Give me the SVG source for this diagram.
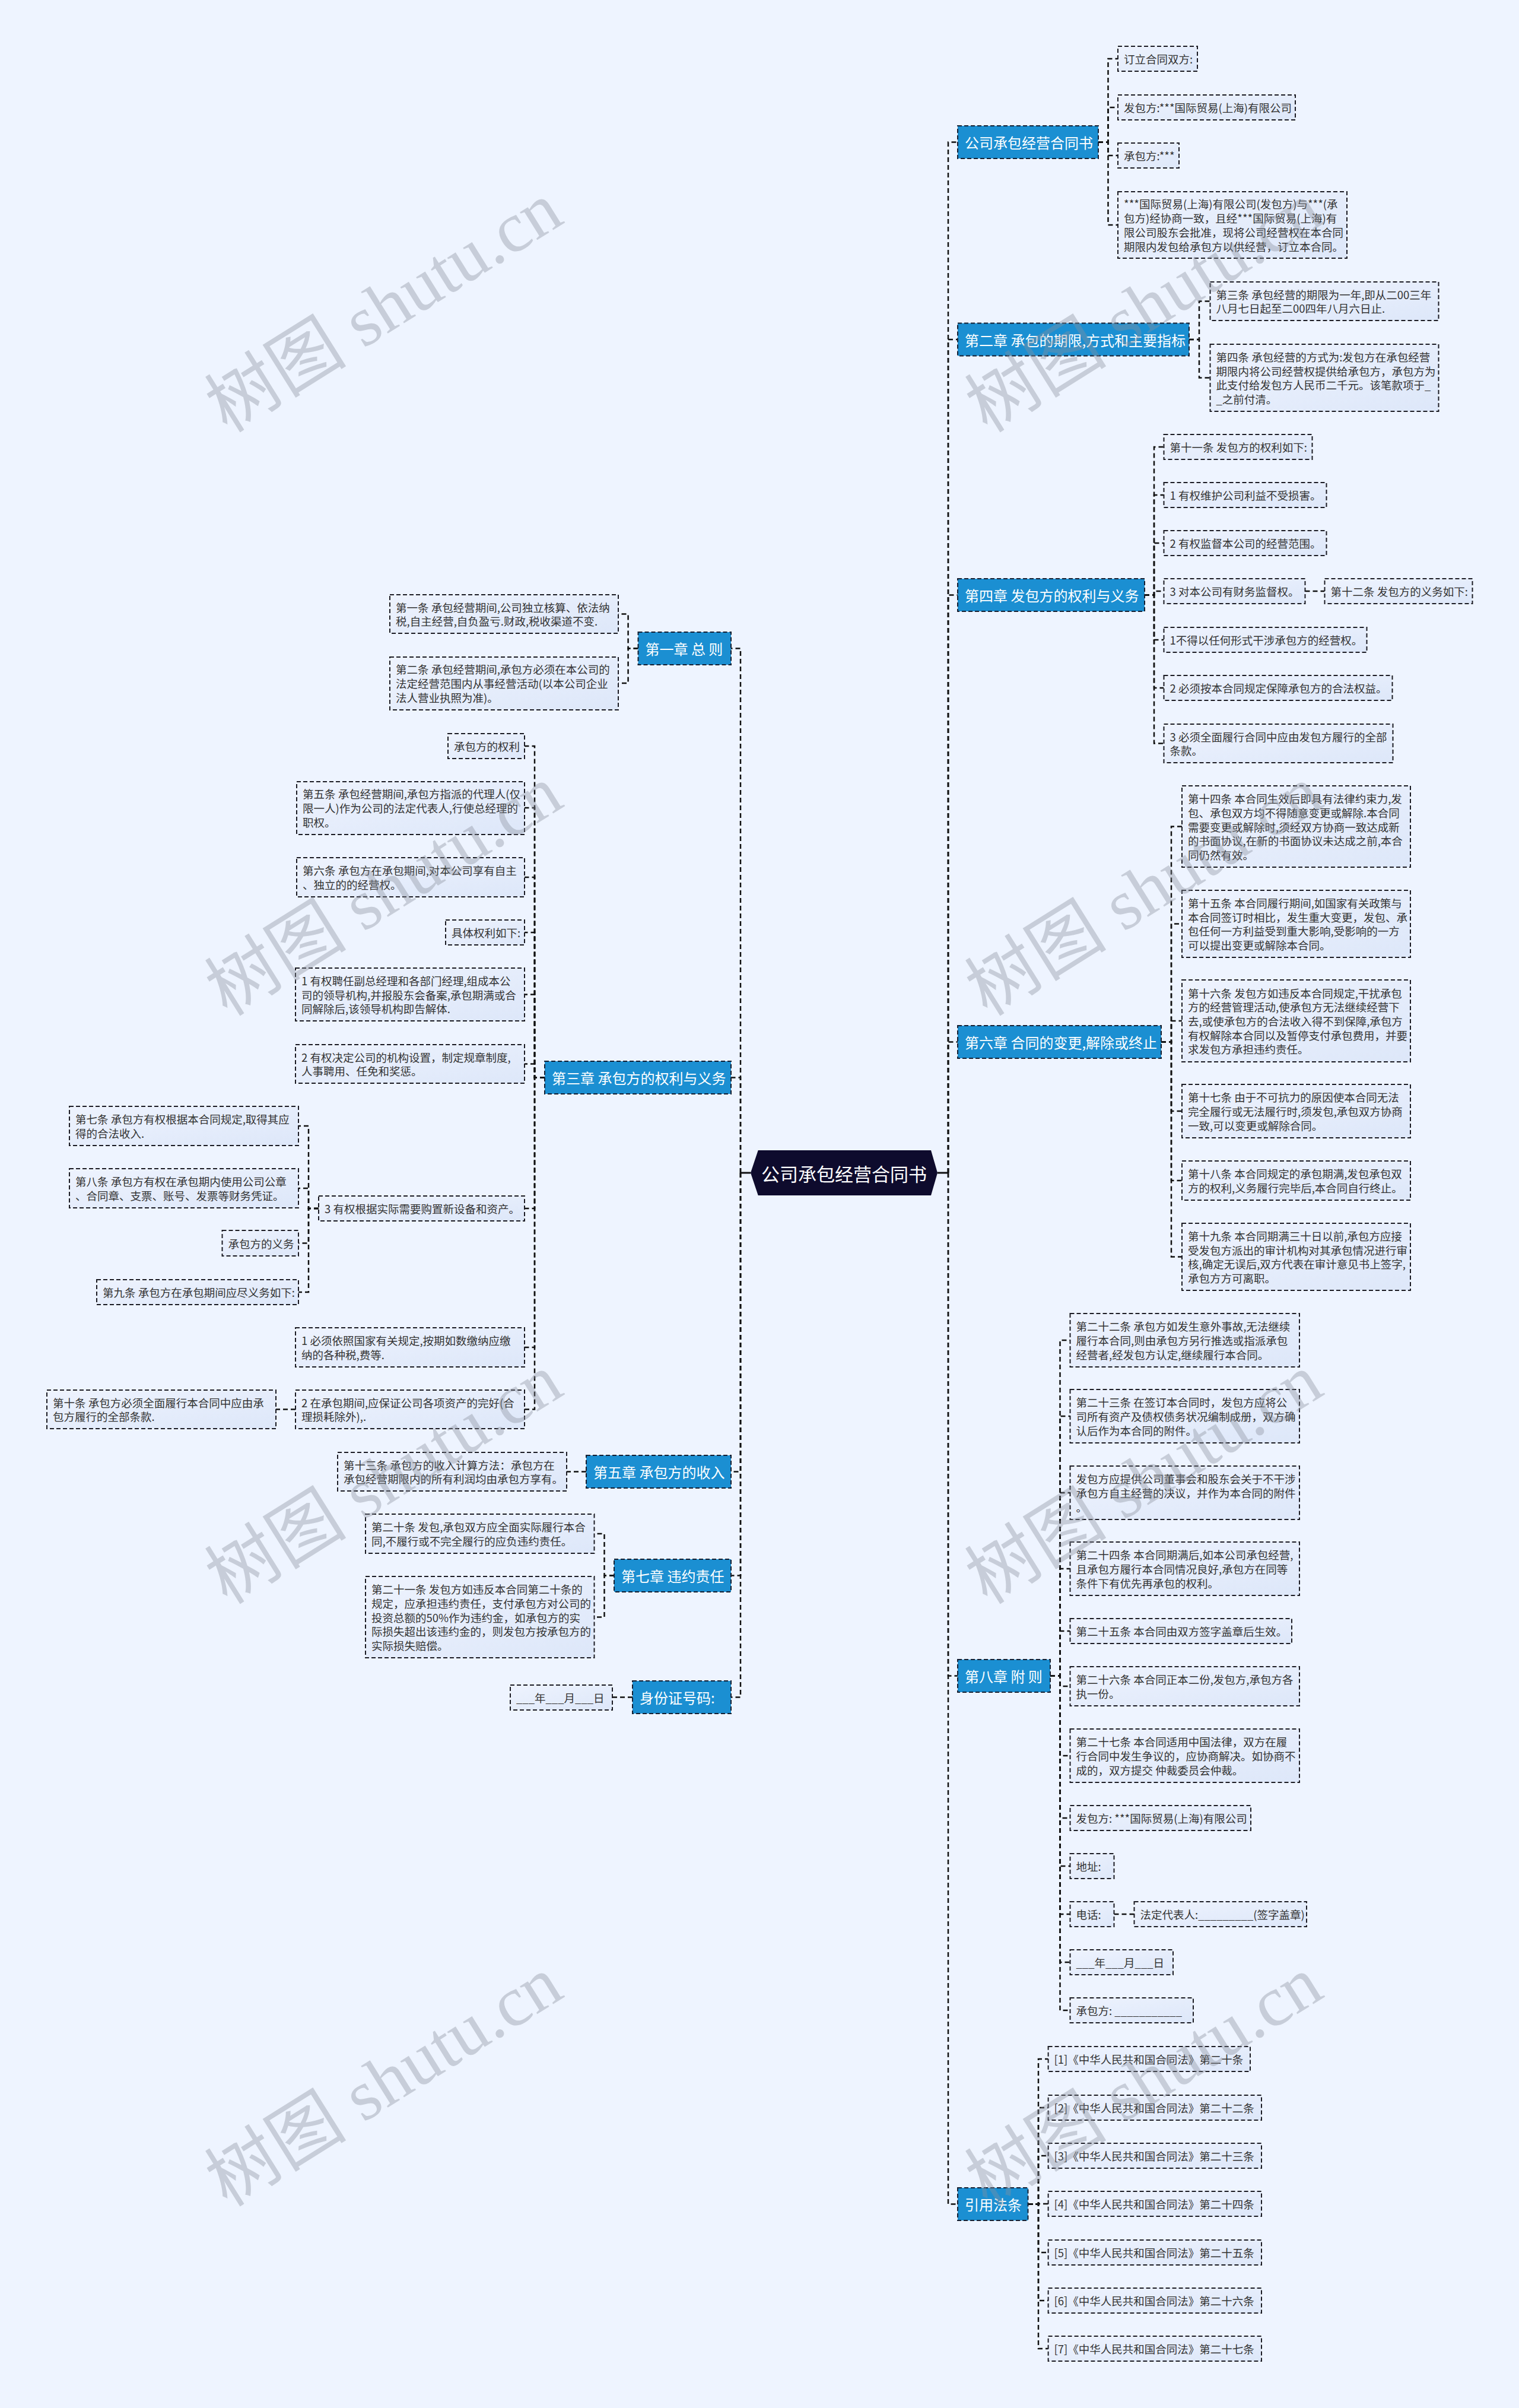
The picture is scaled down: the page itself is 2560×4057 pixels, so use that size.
<svg xmlns="http://www.w3.org/2000/svg" width="2560" height="4057" viewBox="0 0 2560 4057">
<defs>
<linearGradient id="lg" x1="0" y1="0" x2="1" y2="1">
<stop offset="0" stop-color="#eef3fe"/>
<stop offset="1" stop-color="#dde7f9"/>
</linearGradient>
<style>
.leaf rect{fill:url(#lg);stroke:#1c1c24;stroke-width:2;stroke-dasharray:7 4}
.leaf text{font-family:"Noto Sans CJK SC","Liberation Sans",sans-serif;font-size:18.5px;fill:#333}
.chap rect{fill:#1b8fd2;stroke:#152033;stroke-width:2;stroke-dasharray:7 4}
.chap text{font-family:"Noto Sans CJK SC","Liberation Sans",sans-serif;font-size:24px;fill:#fff}
.conn path{fill:none;stroke:#111;stroke-width:2.5;stroke-dasharray:8 5}
.conn path.solid{stroke-dasharray:none;stroke-width:3}
.wm{font-family:"Liberation Serif","Noto Sans CJK SC",serif;font-size:120px;fill:#8a909c;opacity:0.38}
</style>
</defs>
<rect x="0" y="0" width="2560" height="4057" fill="#eef4ff"/>

<g id="connectors" class="conn">
<path class="solid" d="M1265,1976 H1248"/>
<path class="solid" d="M1580,1976 H1598"/>
<path d="M1598,1976 V239.5 H1614"/>
<path d="M1598,1976 V572 H1614"/>
<path d="M1598,1976 V1002.5 H1614"/>
<path d="M1598,1976 V1755.5 H1614"/>
<path d="M1598,1976 V2823.5 H1614"/>
<path d="M1598,1976 V3713.5 H1614"/>
<path d="M1248,1976 V1092.5 H1232"/>
<path d="M1248,1976 V1815.5 H1232"/>
<path d="M1248,1976 V2479.5 H1232"/>
<path d="M1248,1976 V2654.5 H1232"/>
<path d="M1248,1976 V2859.5 H1232"/>
<path d="M1851,239.5 H1867.5 V99 H1884"/>
<path d="M1851,239.5 H1867.5 V181 H1884"/>
<path d="M1851,239.5 H1867.5 V262 H1884"/>
<path d="M1851,239.5 H1867.5 V379 H1884"/>
<path d="M2004,572 H2021 V507.5 H2039.5"/>
<path d="M2004,572 H2021 V636.5 H2039.5"/>
<path d="M1929,1002.5 H1945 V753 H1961.5"/>
<path d="M1929,1002.5 H1945 V834 H1961.5"/>
<path d="M1929,1002.5 H1945 V915 H1961.5"/>
<path d="M1929,1002.5 H1945 V996 H1961.5"/>
<path d="M1929,1002.5 H1945 V1078 H1961.5"/>
<path d="M1929,1002.5 H1945 V1159 H1961.5"/>
<path d="M1929,1002.5 H1945 V1252.5 H1961.5"/>
<path d="M2199.5,996 H2232.5"/>
<path d="M1957,1755.5 H1974 V1392.5 H1992"/>
<path d="M1957,1755.5 H1974 V1556.5 H1992"/>
<path d="M1957,1755.5 H1974 V1720 H1992"/>
<path d="M1957,1755.5 H1974 V1872 H1992"/>
<path d="M1957,1755.5 H1974 V1989 H1992"/>
<path d="M1957,1755.5 H1974 V2117.5 H1992"/>
<path d="M1770,2823.5 H1786.5 V2258 H1803.5"/>
<path d="M1770,2823.5 H1786.5 V2386 H1803.5"/>
<path d="M1770,2823.5 H1786.5 V2515 H1803.5"/>
<path d="M1770,2823.5 H1786.5 V2643 H1803.5"/>
<path d="M1770,2823.5 H1786.5 V2748 H1803.5"/>
<path d="M1770,2823.5 H1786.5 V2841 H1803.5"/>
<path d="M1770,2823.5 H1786.5 V2958 H1803.5"/>
<path d="M1770,2823.5 H1786.5 V3063 H1803.5"/>
<path d="M1770,2823.5 H1786.5 V3144 H1803.5"/>
<path d="M1770,2823.5 H1786.5 V3225 H1803.5"/>
<path d="M1770,2823.5 H1786.5 V3306 H1803.5"/>
<path d="M1770,2823.5 H1786.5 V3387 H1803.5"/>
<path d="M1877.5,3225 H1911.5"/>
<path d="M1732.5,3713.5 H1750 V3469 H1766.6"/>
<path d="M1732.5,3713.5 H1750 V3551 H1766.6"/>
<path d="M1732.5,3713.5 H1750 V3632 H1766.6"/>
<path d="M1732.5,3713.5 H1750 V3713 H1766.6"/>
<path d="M1732.5,3713.5 H1750 V3795 H1766.6"/>
<path d="M1732.5,3713.5 H1750 V3876 H1766.6"/>
<path d="M1732.5,3713.5 H1750 V3957 H1766.6"/>
<path d="M1075.5,1092.5 H1058.6 V1034.5 H1042"/>
<path d="M1075.5,1092.5 H1058.6 V1151 H1042"/>
<path d="M918,1815.5 H901 V1257 H884"/>
<path d="M918,1815.5 H901 V1361 H884"/>
<path d="M918,1815.5 H901 V1478 H884"/>
<path d="M918,1815.5 H901 V1571 H884"/>
<path d="M918,1815.5 H901 V1675.5 H884"/>
<path d="M918,1815.5 H901 V1792.5 H884"/>
<path d="M918,1815.5 H901 V2036 H884"/>
<path d="M918,1815.5 H901 V2270 H884"/>
<path d="M918,1815.5 H901 V2374.5 H884"/>
<path d="M537,2036 H520 V1897 H503"/>
<path d="M537,2036 H520 V2002 H503"/>
<path d="M537,2036 H520 V2094.5 H503"/>
<path d="M537,2036 H520 V2177 H503"/>
<path d="M498,2374.5 H465"/>
<path d="M988,2479.5 H955"/>
<path d="M1035,2654.5 H1018.5 V2584 H1001.5"/>
<path d="M1035,2654.5 H1018.5 V2724.5 H1001.5"/>
<path d="M1066,2859.5 H1032"/>
</g>

<g id="root">
<polygon points="1265,1976 1277.7,1938 1569,1938 1580,1976 1569,2014 1277.7,2014" fill="#0e0b2d"/>
<text x="1422.5" y="1976" text-anchor="middle" dominant-baseline="central" font-family="Noto Sans CJK SC, Liberation Sans, sans-serif" font-size="31" fill="#fff">公司承包经营合同书</text>
</g>

<g id="k1" class="chap"><rect x="1614" y="212" width="237" height="55"/><text x="1626" y="239.5" dominant-baseline="central">公司承包经营合同书</text></g>
<g id="k2" class="chap"><rect x="1614" y="544.5" width="390" height="55"/><text x="1626" y="572" dominant-baseline="central">第二章 承包的期限,方式和主要指标</text></g>
<g id="k3" class="chap"><rect x="1614" y="975" width="315" height="55"/><text x="1626" y="1002.5" dominant-baseline="central">第四章 发包方的权利与义务</text></g>
<g id="k4" class="chap"><rect x="1614" y="1728" width="343" height="55"/><text x="1626" y="1755.5" dominant-baseline="central">第六章 合同的变更,解除或终止</text></g>
<g id="k5" class="chap"><rect x="1614" y="2796" width="156" height="55"/><text x="1626" y="2823.5" dominant-baseline="central">第八章 附 则</text></g>
<g id="k6" class="chap"><rect x="1614" y="3686" width="118.5" height="55"/><text x="1626" y="3713.5" dominant-baseline="central">引用法条</text></g>
<g id="j1" class="chap"><rect x="1075.5" y="1065" width="156.5" height="55"/><text x="1087.5" y="1092.5" dominant-baseline="central">第一章 总 则</text></g>
<g id="j2" class="chap"><rect x="918" y="1788" width="314" height="55"/><text x="930" y="1815.5" dominant-baseline="central">第三章 承包方的权利与义务</text></g>
<g id="j3" class="chap"><rect x="988" y="2452" width="244" height="55"/><text x="1000" y="2479.5" dominant-baseline="central">第五章 承包方的收入</text></g>
<g id="j4" class="chap"><rect x="1035" y="2627" width="197" height="55"/><text x="1047" y="2654.5" dominant-baseline="central">第七章 违约责任</text></g>
<g id="j5" class="chap"><rect x="1066" y="2832" width="166" height="55"/><text x="1078" y="2859.5" dominant-baseline="central">身份证号码:</text></g>

<g id="a1" class="leaf"><rect x="1884" y="78" width="134" height="42"/><text x="1894" y="99" dominant-baseline="central">订立合同双方:</text></g>
<g id="a2" class="leaf"><rect x="1884" y="160" width="299" height="42"/><text x="1894" y="181" dominant-baseline="central">发包方:***国际贸易(上海)有限公司</text></g>
<g id="a3" class="leaf"><rect x="1884" y="241" width="103" height="42"/><text x="1894" y="262" dominant-baseline="central">承包方:***</text></g>
<g id="a4" class="leaf"><rect x="1884" y="323" width="386" height="112"/><text dominant-baseline="central"><tspan x="1894" y="343.45">***国际贸易(上海)有限公司(发包方)与***(承</tspan><tspan x="1894" y="367.15">包方)经协商一致，且经***国际贸易(上海)有</tspan><tspan x="1894" y="390.85">限公司股东会批准，现将公司经营权在本合同</tspan><tspan x="1894" y="414.55">期限内发包给承包方以供经营，订立本合同。</tspan></text></g>

<g id="b1" class="leaf"><rect x="2039.5" y="475" width="385" height="65"/><text dominant-baseline="central"><tspan x="2049.5" y="495.65">第三条 承包经营的期限为一年,即从二00三年</tspan><tspan x="2049.5" y="519.35">八月七日起至二00四年八月六日止.</tspan></text></g>
<g id="b2" class="leaf"><rect x="2039.5" y="580" width="385" height="113"/><text dominant-baseline="central"><tspan x="2049.5" y="600.95">第四条 承包经营的方式为:发包方在承包经营</tspan><tspan x="2049.5" y="624.65">期限内将公司经营权提供给承包方，承包方为</tspan><tspan x="2049.5" y="648.35">此支付给发包方人民币二千元。该笔款项于_</tspan><tspan x="2049.5" y="672.05">_之前付清。</tspan></text></g>

<g id="c1" class="leaf"><rect x="1961.5" y="732" width="250" height="42"/><text x="1971.5" y="753" dominant-baseline="central">第十一条 发包方的权利如下:</text></g>
<g id="c2" class="leaf"><rect x="1961.5" y="813" width="274" height="42"/><text x="1971.5" y="834" dominant-baseline="central">1 有权维护公司利益不受损害。</text></g>
<g id="c3" class="leaf"><rect x="1961.5" y="894" width="274" height="42"/><text x="1971.5" y="915" dominant-baseline="central">2 有权监督本公司的经营范围。</text></g>
<g id="c4" class="leaf"><rect x="1961.5" y="975" width="238" height="42"/><text x="1971.5" y="996" dominant-baseline="central">3 对本公司有财务监督权。</text></g>
<g id="c4a" class="leaf"><rect x="2232.5" y="975" width="249" height="42"/><text x="2242.5" y="996" dominant-baseline="central">第十二条 发包方的义务如下:</text></g>
<g id="c5" class="leaf"><rect x="1961.5" y="1057" width="342" height="42"/><text x="1971.5" y="1078" dominant-baseline="central">1不得以任何形式干涉承包方的经营权。</text></g>
<g id="c6" class="leaf"><rect x="1961.5" y="1138" width="385" height="42"/><text x="1971.5" y="1159" dominant-baseline="central">2 必须按本合同规定保障承包方的合法权益。</text></g>
<g id="c7" class="leaf"><rect x="1961.5" y="1220" width="386" height="65"/><text dominant-baseline="central"><tspan x="1971.5" y="1240.65">3 必须全面履行合同中应由发包方履行的全部</tspan><tspan x="1971.5" y="1264.35">条款。</tspan></text></g>

<g id="d1" class="leaf"><rect x="1992" y="1324" width="385" height="137"/><text dominant-baseline="central"><tspan x="2002" y="1345.1">第十四条 本合同生效后即具有法律约束力,发</tspan><tspan x="2002" y="1368.8">包、承包双方均不得随意变更或解除.本合同</tspan><tspan x="2002" y="1392.5">需要变更或解除时,须经双方协商一致达成新</tspan><tspan x="2002" y="1416.2">的书面协议,在新的书面协议未达成之前,本合</tspan><tspan x="2002" y="1439.9">同仍然有效。</tspan></text></g>
<g id="d2" class="leaf"><rect x="1992" y="1500" width="385" height="113"/><text dominant-baseline="central"><tspan x="2002" y="1520.95">第十五条 本合同履行期间,如国家有关政策与</tspan><tspan x="2002" y="1544.65">本合同签订时相比，发生重大变更，发包、承</tspan><tspan x="2002" y="1568.35">包任何一方利益受到重大影响,受影响的一方</tspan><tspan x="2002" y="1592.05">可以提出变更或解除本合同。</tspan></text></g>
<g id="d3" class="leaf"><rect x="1992" y="1651" width="385" height="138"/><text dominant-baseline="central"><tspan x="2002" y="1672.6">第十六条 发包方如违反本合同规定,干扰承包</tspan><tspan x="2002" y="1696.3">方的经营管理活动,使承包方无法继续经营下</tspan><tspan x="2002" y="1720">去,或使承包方的合法收入得不到保障,承包方</tspan><tspan x="2002" y="1743.7">有权解除本合同以及暂停支付承包费用，并要</tspan><tspan x="2002" y="1767.4">求发包方承担违约责任。</tspan></text></g>
<g id="d4" class="leaf"><rect x="1992" y="1827" width="385" height="90"/><text dominant-baseline="central"><tspan x="2002" y="1848.3">第十七条 由于不可抗力的原因使本合同无法</tspan><tspan x="2002" y="1872">完全履行或无法履行时,须发包,承包双方协商</tspan><tspan x="2002" y="1895.7">一致,可以变更或解除合同。</tspan></text></g>
<g id="d5" class="leaf"><rect x="1992" y="1956" width="385" height="66"/><text dominant-baseline="central"><tspan x="2002" y="1977.15">第十八条 本合同规定的承包期满,发包承包双</tspan><tspan x="2002" y="2000.85">方的权利,义务履行完毕后,本合同自行终止。</tspan></text></g>
<g id="d6" class="leaf"><rect x="1992" y="2061" width="385" height="113"/><text dominant-baseline="central"><tspan x="2002" y="2081.95">第十九条 本合同期满三十日以前,承包方应接</tspan><tspan x="2002" y="2105.65">受发包方派出的审计机构对其承包情况进行审</tspan><tspan x="2002" y="2129.35">核,确定无误后,双方代表在审计意见书上签字,</tspan><tspan x="2002" y="2153.05">承包方方可离职。</tspan></text></g>

<g id="e1" class="leaf"><rect x="1803.5" y="2213" width="386.5" height="90"/><text dominant-baseline="central"><tspan x="1813.5" y="2234.3">第二十二条 承包方如发生意外事故,无法继续</tspan><tspan x="1813.5" y="2258">履行本合同,则由承包方另行推选或指派承包</tspan><tspan x="1813.5" y="2281.7">经营者,经发包方认定,继续履行本合同。</tspan></text></g>
<g id="e2" class="leaf"><rect x="1803.5" y="2341" width="386.5" height="90"/><text dominant-baseline="central"><tspan x="1813.5" y="2362.3">第二十三条 在签订本合同时，发包方应将公</tspan><tspan x="1813.5" y="2386">司所有资产及债权债务状况编制成册，双方确</tspan><tspan x="1813.5" y="2409.7">认后作为本合同的附件。</tspan></text></g>
<g id="e3" class="leaf"><rect x="1803.5" y="2470" width="386.5" height="90"/><text dominant-baseline="central"><tspan x="1813.5" y="2491.3">发包方应提供公司董事会和股东会关于不干涉</tspan><tspan x="1813.5" y="2515">承包方自主经营的决议，并作为本合同的附件</tspan><tspan x="1813.5" y="2538.7">。</tspan></text></g>
<g id="e4" class="leaf"><rect x="1803.5" y="2598" width="386.5" height="90"/><text dominant-baseline="central"><tspan x="1813.5" y="2619.3">第二十四条 本合同期满后,如本公司承包经营,</tspan><tspan x="1813.5" y="2643">且承包方履行本合同情况良好,承包方在同等</tspan><tspan x="1813.5" y="2666.7">条件下有优先再承包的权利。</tspan></text></g>
<g id="e5" class="leaf"><rect x="1803.5" y="2727" width="373.5" height="42"/><text x="1813.5" y="2748" dominant-baseline="central">第二十五条 本合同由双方签字盖章后生效。</text></g>
<g id="e6" class="leaf"><rect x="1803.5" y="2808" width="386.5" height="66"/><text dominant-baseline="central"><tspan x="1813.5" y="2829.15">第二十六条 本合同正本二份,发包方,承包方各</tspan><tspan x="1813.5" y="2852.85">执一份。</tspan></text></g>
<g id="e7" class="leaf"><rect x="1803.5" y="2913" width="386.5" height="90"/><text dominant-baseline="central"><tspan x="1813.5" y="2934.3">第二十七条 本合同适用中国法律，双方在履</tspan><tspan x="1813.5" y="2958">行合同中发生争议的，应协商解决。如协商不</tspan><tspan x="1813.5" y="2981.7">成的，双方提交 仲裁委员会仲裁。</tspan></text></g>
<g id="e8" class="leaf"><rect x="1803.5" y="3042" width="304.5" height="42"/><text x="1813.5" y="3063" dominant-baseline="central">发包方: ***国际贸易(上海)有限公司</text></g>
<g id="e9" class="leaf"><rect x="1803.5" y="3123" width="74" height="42"/><text x="1813.5" y="3144" dominant-baseline="central">地址:</text></g>
<g id="e10" class="leaf"><rect x="1803.5" y="3204" width="74" height="42"/><text x="1813.5" y="3225" dominant-baseline="central">电话:</text></g>
<g id="e10a" class="leaf"><rect x="1911.5" y="3204" width="290.5" height="42"/><text x="1921.5" y="3225" dominant-baseline="central">法定代表人:_________(签字盖章)</text></g>
<g id="e11" class="leaf"><rect x="1803.5" y="3285" width="173.5" height="42"/><text x="1813.5" y="3306" dominant-baseline="central">___年___月___日</text></g>
<g id="e12" class="leaf"><rect x="1803.5" y="3366" width="207.5" height="42"/><text x="1813.5" y="3387" dominant-baseline="central">承包方: ___________</text></g>

<g id="f1" class="leaf"><rect x="1766.6" y="3448" width="340.4" height="42"/><text x="1776.6" y="3469" dominant-baseline="central">[1]《中华人民共和国合同法》第二十条</text></g>
<g id="f2" class="leaf"><rect x="1766.6" y="3530" width="359.4" height="42"/><text x="1776.6" y="3551" dominant-baseline="central">[2]《中华人民共和国合同法》第二十二条</text></g>
<g id="f3" class="leaf"><rect x="1766.6" y="3611" width="359.4" height="42"/><text x="1776.6" y="3632" dominant-baseline="central">[3]《中华人民共和国合同法》第二十三条</text></g>
<g id="f4" class="leaf"><rect x="1766.6" y="3692" width="359.4" height="42"/><text x="1776.6" y="3713" dominant-baseline="central">[4]《中华人民共和国合同法》第二十四条</text></g>
<g id="f5" class="leaf"><rect x="1766.6" y="3774" width="359.4" height="42"/><text x="1776.6" y="3795" dominant-baseline="central">[5]《中华人民共和国合同法》第二十五条</text></g>
<g id="f6" class="leaf"><rect x="1766.6" y="3855" width="359.4" height="42"/><text x="1776.6" y="3876" dominant-baseline="central">[6]《中华人民共和国合同法》第二十六条</text></g>
<g id="f7" class="leaf"><rect x="1766.6" y="3936" width="359.4" height="42"/><text x="1776.6" y="3957" dominant-baseline="central">[7]《中华人民共和国合同法》第二十七条</text></g>

<g id="l1" class="leaf"><rect x="657" y="1002" width="385" height="65"/><text dominant-baseline="central"><tspan x="667" y="1022.65">第一条 承包经营期间,公司独立核算、依法纳</tspan><tspan x="667" y="1046.35">税,自主经营,自负盈亏.财政,税收渠道不变.</tspan></text></g>
<g id="l2" class="leaf"><rect x="657" y="1107" width="385" height="89"/><text dominant-baseline="central"><tspan x="667" y="1127.3">第二条 承包经营期间,承包方必须在本公司的</tspan><tspan x="667" y="1151">法定经营范围内从事经营活动(以本公司企业</tspan><tspan x="667" y="1174.7">法人营业执照为准)。</tspan></text></g>

<g id="m1" class="leaf"><rect x="755" y="1236" width="129" height="42"/><text x="765" y="1257" dominant-baseline="central">承包方的权利</text></g>
<g id="m2" class="leaf"><rect x="500" y="1317" width="384" height="89"/><text dominant-baseline="central"><tspan x="510" y="1337.3">第五条 承包经营期间,承包方指派的代理人(仅</tspan><tspan x="510" y="1361">限一人)作为公司的法定代表人,行使总经理的</tspan><tspan x="510" y="1384.7">职权。</tspan></text></g>
<g id="m3" class="leaf"><rect x="500" y="1445" width="384" height="66"/><text dominant-baseline="central"><tspan x="510" y="1466.15">第六条 承包方在承包期间,对本公司享有自主</tspan><tspan x="510" y="1489.85">、独立的的经营权。</tspan></text></g>
<g id="m4" class="leaf"><rect x="751" y="1550" width="133" height="42"/><text x="761" y="1571" dominant-baseline="central">具体权利如下:</text></g>
<g id="m5" class="leaf"><rect x="498" y="1631" width="386" height="89"/><text dominant-baseline="central"><tspan x="508" y="1651.8">1 有权聘任副总经理和各部门经理,组成本公</tspan><tspan x="508" y="1675.5">司的领导机构,并报股东会备案,承包期满或合</tspan><tspan x="508" y="1699.2">同解除后,该领导机构即告解体.</tspan></text></g>
<g id="m6" class="leaf"><rect x="498" y="1760" width="386" height="65"/><text dominant-baseline="central"><tspan x="508" y="1780.65">2 有权决定公司的机构设置，制定规章制度,</tspan><tspan x="508" y="1804.35">人事聘用、任免和奖惩。</tspan></text></g>
<g id="m7" class="leaf"><rect x="537" y="2015" width="347" height="42"/><text x="547" y="2036" dominant-baseline="central">3 有权根据实际需要购置新设备和资产。</text></g>
<g id="m8" class="leaf"><rect x="498" y="2237" width="386" height="66"/><text dominant-baseline="central"><tspan x="508" y="2258.15">1 必须依照国家有关规定,按期如数缴纳应缴</tspan><tspan x="508" y="2281.85">纳的各种税,费等.</tspan></text></g>
<g id="m9" class="leaf"><rect x="498" y="2342" width="386" height="65"/><text dominant-baseline="central"><tspan x="508" y="2362.65">2 在承包期间,应保证公司各项资产的完好(合</tspan><tspan x="508" y="2386.35">理损耗除外),.</tspan></text></g>

<g id="n1" class="leaf"><rect x="117" y="1864" width="386" height="66"/><text dominant-baseline="central"><tspan x="127" y="1885.15">第七条 承包方有权根据本合同规定,取得其应</tspan><tspan x="127" y="1908.85">得的合法收入.</tspan></text></g>
<g id="n2" class="leaf"><rect x="117" y="1969" width="386" height="66"/><text dominant-baseline="central"><tspan x="127" y="1990.15">第八条 承包方有权在承包期内使用公司公章</tspan><tspan x="127" y="2013.85">、合同章、支票、账号、发票等财务凭证。</tspan></text></g>
<g id="n3" class="leaf"><rect x="374.5" y="2073" width="128.5" height="43"/><text x="384.5" y="2094.5" dominant-baseline="central">承包方的义务</text></g>
<g id="n4" class="leaf"><rect x="163" y="2156" width="340" height="42"/><text x="173" y="2177" dominant-baseline="central">第九条 承包方在承包期间应尽义务如下:</text></g>
<g id="n5" class="leaf"><rect x="79" y="2342" width="386" height="65"/><text dominant-baseline="central"><tspan x="89" y="2362.65">第十条 承包方必须全面履行本合同中应由承</tspan><tspan x="89" y="2386.35">包方履行的全部条款.</tspan></text></g>

<g id="p1" class="leaf"><rect x="569" y="2447" width="386" height="65"/><text dominant-baseline="central"><tspan x="579" y="2467.65">第十三条 承包方的收入计算方法：承包方在</tspan><tspan x="579" y="2491.35">承包经营期限内的所有利润均由承包方享有。</tspan></text></g>
<g id="q1" class="leaf"><rect x="616" y="2551" width="385.5" height="66"/><text dominant-baseline="central"><tspan x="626" y="2572.15">第二十条 发包,承包双方应全面实际履行本合</tspan><tspan x="626" y="2595.85">同,不履行或不完全履行的应负违约责任。</tspan></text></g>
<g id="q2" class="leaf"><rect x="616" y="2656" width="385.5" height="137"/><text dominant-baseline="central"><tspan x="626" y="2677.1">第二十一条 发包方如违反本合同第二十条的</tspan><tspan x="626" y="2700.8">规定，应承担违约责任，支付承包方对公司的</tspan><tspan x="626" y="2724.5">投资总额的50%作为违约金，如承包方的实</tspan><tspan x="626" y="2748.2">际损失超出该违约金的，则发包方按承包方的</tspan><tspan x="626" y="2771.9">实际损失赔偿。</tspan></text></g>
<g id="r1" class="leaf"><rect x="860" y="2839" width="172" height="42"/><text x="870" y="2860" dominant-baseline="central">___年___月___日</text></g>

<g id="watermarks">
<text class="wm" text-anchor="middle" dominant-baseline="central" transform="translate(647,518) rotate(-32)">树图 shutu.cn</text>
<text class="wm" text-anchor="middle" dominant-baseline="central" transform="translate(1928,518) rotate(-32)">树图 shutu.cn</text>
<text class="wm" text-anchor="middle" dominant-baseline="central" transform="translate(647,1501) rotate(-32)">树图 shutu.cn</text>
<text class="wm" text-anchor="middle" dominant-baseline="central" transform="translate(1928,1501) rotate(-32)">树图 shutu.cn</text>
<text class="wm" text-anchor="middle" dominant-baseline="central" transform="translate(647,2492) rotate(-32)">树图 shutu.cn</text>
<text class="wm" text-anchor="middle" dominant-baseline="central" transform="translate(1928,2492) rotate(-32)">树图 shutu.cn</text>
<text class="wm" text-anchor="middle" dominant-baseline="central" transform="translate(647,3507) rotate(-32)">树图 shutu.cn</text>
<text class="wm" text-anchor="middle" dominant-baseline="central" transform="translate(1928,3507) rotate(-32)">树图 shutu.cn</text>
</g>
</svg>
